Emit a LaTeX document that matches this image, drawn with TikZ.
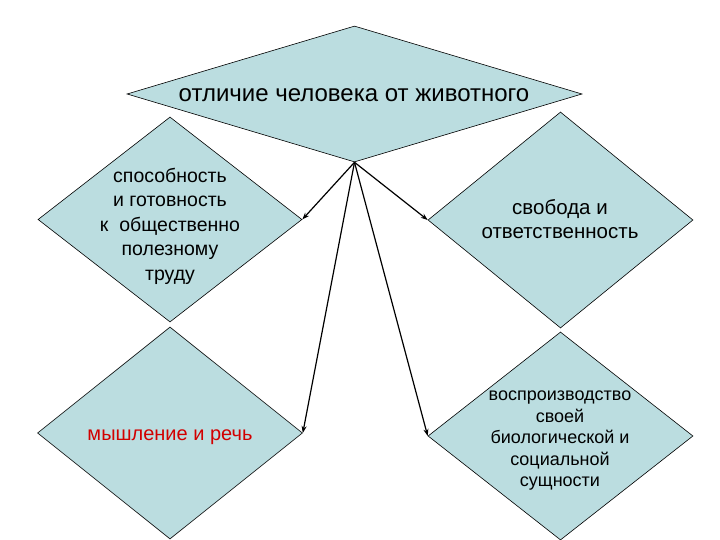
\documentclass[tikz,border=0pt]{standalone}
\usepackage{fontspec}
\setmainfont{Liberation Sans}
\usetikzlibrary{shapes.geometric,arrows.meta}
\definecolor{dfill}{RGB}{187,221,224}
\definecolor{dred}{RGB}{210,0,0}
\tikzset{
  dia/.style={diamond, draw=black, line width=0.6pt, fill=dfill, inner sep=0pt, aspect=1},
  lbl/.style={align=center, inner sep=0pt, font=\fontsize{19.5}{24.5}\selectfont},
  conn/.style={line width=1.2pt, -{Stealth[length=7pt,width=5pt]}}
}
\begin{document}
\begin{tikzpicture}[x=1pt,y=-1pt]
\useasboundingbox (0,0) rectangle (720,540);
\node[dia, minimum width=455pt, minimum height=136pt] (top) at (354.5,94) {};
\node[dia, minimum width=264pt, minimum height=205pt] (lt) at (170,219.5) {};
\node[dia, minimum width=265pt, minimum height=212pt] (lb) at (170,433) {};
\node[dia, minimum width=265pt, minimum height=216pt] (rt) at (560.5,220) {};
\node[dia, minimum width=265pt, minimum height=208pt] (rb) at (560.5,436) {};
\node[lbl, font=\fontsize{24}{28}\selectfont] (ttop) at (354,95) {отличие человека от животного};
\node[lbl] (tlt) at (170,226) {способность\\ и готовность\\к\ \ общественно\\полезному\\труду};
\node[lbl, font=\fontsize{20.5}{24}\selectfont] (trt) at (560,219) {свобода и\\ответственность};
\node[lbl, text=dred, font=\fontsize{20}{24}\selectfont] (tlb) at (170,437) {мышление и речь};
\node[lbl, font=\fontsize{18}{21.5}\selectfont] (trb) at (560,441) {воспроизводство\\своей\\биологической и\\социальной\\сущности};
\draw[conn] (top.south) -- (lt.east);
\draw[conn] (top.south) -- (rt.west);
\draw[conn] (top.south) -- (lb.east);
\draw[conn] (top.south) -- (rb.west);
\end{tikzpicture}
\end{document}
